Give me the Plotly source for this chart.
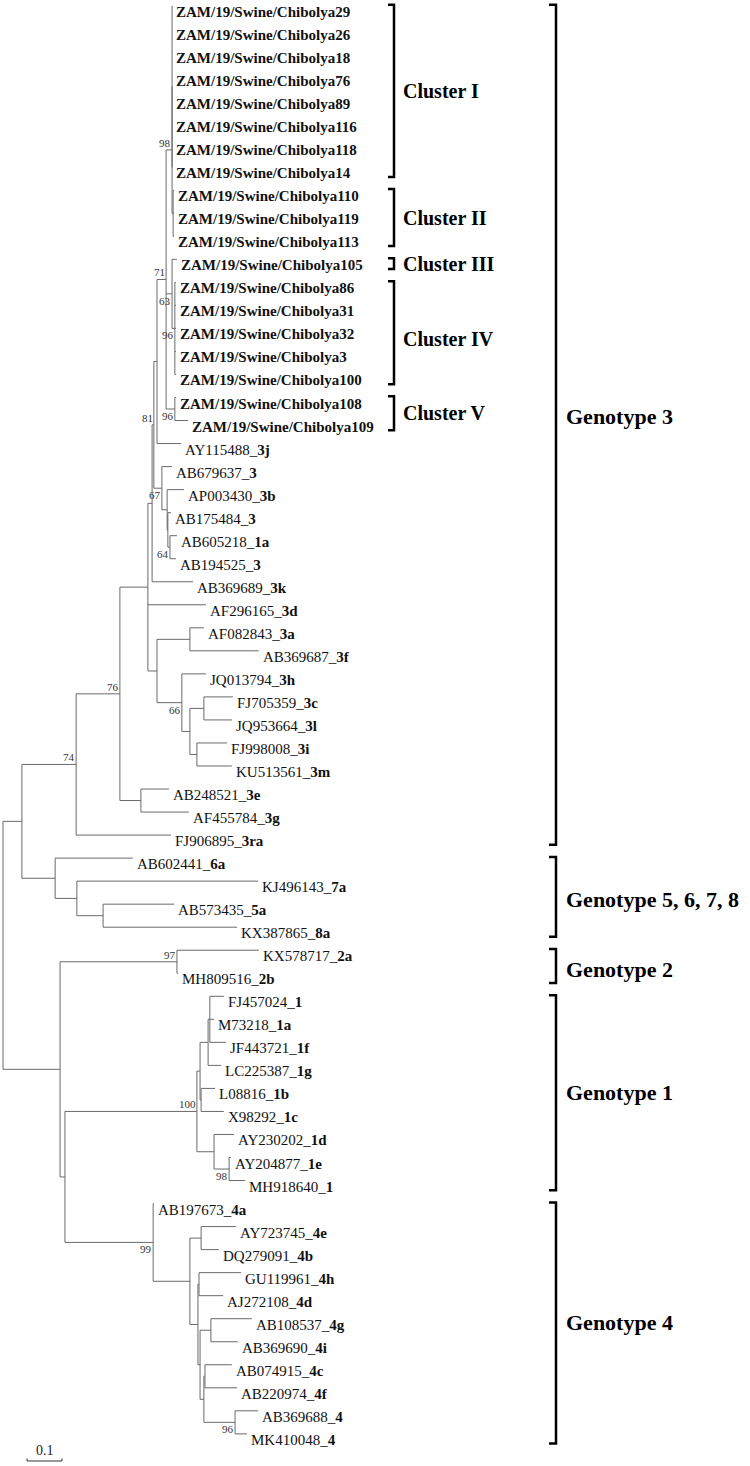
import plotly.graph_objects as go
from collections import defaultdict

# ---------------- DATA ----------------
leaf_names = [
    "ZAM/19/Swine/Chibolya29", "ZAM/19/Swine/Chibolya26", "ZAM/19/Swine/Chibolya18",
    "ZAM/19/Swine/Chibolya76", "ZAM/19/Swine/Chibolya89", "ZAM/19/Swine/Chibolya116",
    "ZAM/19/Swine/Chibolya118", "ZAM/19/Swine/Chibolya14", "ZAM/19/Swine/Chibolya110",
    "ZAM/19/Swine/Chibolya119", "ZAM/19/Swine/Chibolya113", "ZAM/19/Swine/Chibolya105",
    "ZAM/19/Swine/Chibolya86", "ZAM/19/Swine/Chibolya31", "ZAM/19/Swine/Chibolya32",
    "ZAM/19/Swine/Chibolya3", "ZAM/19/Swine/Chibolya100", "ZAM/19/Swine/Chibolya108",
    "ZAM/19/Swine/Chibolya109",
    "AY115488", "AB679637", "AP003430", "AB175484", "AB605218", "AB194525", "AB369689",
    "AF296165", "AF082843", "AB369687", "JQ013794", "FJ705359", "JQ953664", "FJ998008",
    "KU513561", "AB248521", "AF455784", "FJ906895",
    "AB602441", "KJ496143", "AB573435", "KX387865",
    "KX578717", "MH809516",
    "FJ457024", "M73218", "JF443721", "LC225387", "L08816", "X98292", "AY230202",
    "AY204877", "MH918640",
    "AB197673", "AY723745", "DQ279091", "GU119961", "AJ272108", "AB108537", "AB369690",
    "AB074915", "AB220974", "AB369688", "MK410048",
]
leaf_types = [""] * 19 + [
    "3j", "3", "3b", "3", "1a", "3", "3k", "3d", "3a", "3f", "3h", "3c", "3l", "3i", "3m",
    "3e", "3g", "3ra",
    "6a", "7a", "5a", "8a",
    "2a", "2b",
    "1", "1a", "1f", "1g", "1b", "1c", "1d", "1e", "1",
    "4a", "4e", "4b", "4h", "4d", "4g", "4i", "4c", "4f", "4", "4",
]
leaf_parent = (["CI"] * 8 + ["CII"] * 3 + ["N63"] + ["N96"] * 5 + ["CV"] * 2 + [
    "D1", "D2", "E2", "F2", "G2", "G2", "C0", "B", "E", "E", "F", "H", "H", "I", "I",
    "J", "J", "N74",
    "L", "M", "N", "N",
    "O", "O",
    "U", "U", "U", "T", "S", "S", "R", "V", "V",
    "W", "Y", "Y", "AA", "AA", "CC", "CC", "EE", "EE", "FF", "FF",
])
leaf_depth = ([0.484] * 8 + [0.489] * 3 + [0.497] + [0.494] * 5 + [0.494, 0.529] + [
    0.509, 0.483, 0.517, 0.480, 0.497, 0.494, 0.543, 0.580, 0.574, 0.731, 0.580, 0.657,
    0.654, 0.640, 0.654, 0.474, 0.531, 0.480,
    0.371, 0.729, 0.489, 0.669,
    0.731, 0.500,
    0.631, 0.603, 0.637, 0.623, 0.606, 0.631, 0.660, 0.651, 0.691,
    0.431, 0.666, 0.617, 0.680, 0.629, 0.711, 0.671, 0.654, 0.669, 0.729, 0.697,
])

node_names = ["root", "K", "N74", "A", "B", "C0", "C", "D1", "N71", "N98", "CI", "CII",
              "N63", "N96", "CV", "D2", "E2", "F2", "G2", "D", "E", "F", "G", "H", "I",
              "J", "L", "M", "N", "N60", "O", "G14", "P", "Q", "T", "U", "S", "R", "V",
              "W", "X", "Y", "Z", "AA", "BB", "CC", "DD", "EE", "FF"]
node_parent = [None, "root", "K", "N74", "A", "B", "C0", "C", "D1", "N71", "N98", "N98",
               "N71", "N63", "N71", "C", "D2", "E2", "F2", "B", "D", "D", "F", "G", "G",
               "A", "K", "L", "M", "root", "N60", "N60", "G14", "P", "Q", "T", "Q", "P", "R",
               "G14", "W", "X", "X", "Z", "Z", "BB", "BB", "DD", "DD"]
node_depth = [0.0, 0.054, 0.209, 0.334, 0.414, 0.426, 0.431, 0.440, 0.466, 0.483, 0.483, 0.486,
              0.483, 0.491, 0.491, 0.454, 0.469, 0.471, 0.477, 0.440, 0.534, 0.511, 0.534, 0.574, 0.554,
              0.394, 0.149, 0.211, 0.286, 0.163, 0.497, 0.177, 0.554, 0.563, 0.586, 0.591, 0.566, 0.603, 0.646,
              0.429, 0.534, 0.566, 0.557, 0.560, 0.563, 0.594, 0.574, 0.577, 0.663]
node_support = [None, None, 74, 76, None, None, 81, None, 71, 98, None, None,
                63, 96, 96, 67, None, None, 64, None, None, 66, None, None, None,
                None, None, None, None, None, 97, None, 100, None, None, None, None, None, 98,
                99, None, None, None, None, None, None, None, None, 96]

cluster_names = ["Cluster I", "Cluster II", "Cluster III", "Cluster IV", "Cluster V"]
cluster_first = [0, 8, 11, 12, 17]
cluster_last = [7, 10, 11, 16, 18]
genotype_names = ["Genotype 3", "Genotype 5, 6, 7, 8", "Genotype 2", "Genotype 1", "Genotype 4"]
genotype_first = [0, 37, 41, 43, 52]
genotype_last = [36, 40, 42, 51, 62]

scale_length = 0.1
scale_label = "0.1"

# ---------------- LAYOUT CONSTANTS ----------------
W, H = 750, 1466
ROW_PX = 23.03
ROW0_PX = 6.0
PX_PER_UNIT = 350.0
ROOT_PX = 3.0
FONT = "Liberation Serif, Times New Roman, serif"
BRANCH_COLOR = "#6a6a6a"
CLUSTER_LABEL_SHIFT = [0, 0, 0, -6, 0]       # px (positive = up)
GENOTYPE_LABEL_SHIFT = [8, -3, -3, 0, 0]

y_top = -ROW0_PX / ROW_PX
y_bot = y_top + H / ROW_PX
x_left = -ROOT_PX / PX_PER_UNIT
x_right = x_left + W / PX_PER_UNIT

def px_rows(p):
    return p / ROW_PX

# ---------------- TREE GEOMETRY ----------------
depth = dict(zip(node_names, node_depth))
parent = dict(zip(node_names, node_parent))
support = dict(zip(node_names, node_support))
children = defaultdict(list)
for n, p in zip(node_names, node_parent):
    if p is not None:
        children[p].append(n)
for i, p in enumerate(leaf_parent):
    children[p].append(("leaf", i))

ypos = {}
def get_y(n):
    if isinstance(n, tuple):
        return float(n[1])
    if n in ypos:
        return ypos[n]
    ys = [get_y(c) for c in children[n]]
    ypos[n] = (min(ys) + max(ys)) / 2
    return ypos[n]

get_y("root")

xs, ys = [], []
for n in node_names:
    cy = [get_y(c) for c in children[n]]
    xs += [depth[n], depth[n], None]
    ys += [min(cy), max(cy), None]
    if parent[n] is not None:
        xs += [depth[parent[n]], depth[n], None]
        ys += [ypos[n], ypos[n], None]
for i, p in enumerate(leaf_parent):
    xs += [depth[p], leaf_depth[i], None]
    ys += [i, i, None]

fig = go.Figure()
fig.add_trace(go.Scatter(x=xs, y=ys, mode="lines",
                         line=dict(color=BRANCH_COLOR, width=1),
                         hoverinfo="skip", showlegend=False))

annotations = []
# leaf labels
for i, name in enumerate(leaf_names):
    if leaf_types[i]:
        txt = f"{name}_<b>{leaf_types[i]}</b>"
    else:
        txt = f"<b>{name}</b>"
    annotations.append(dict(x=leaf_depth[i], y=i, text=txt, showarrow=False,
                            xanchor="left", yanchor="middle", xshift=2, yshift=-6,
                            font=dict(family=FONT, size=15, color="#111")))

# bootstrap labels
for n in node_names:
    s = support[n]
    if s is None:
        continue
    above = ypos[n] < ypos[parent[n]]
    annotations.append(dict(x=depth[n], y=ypos[n], text=str(s), showarrow=False,
                            xanchor="right", yanchor="middle", xshift=1,
                            yshift=7 if above else -7,
                            font=dict(family=FONT, size=11, color="#333")))

shapes = []
def bracket(first, last, x_line, x_tick):
    top = first - 0.05
    bot = last + 0.42
    shapes.append(dict(type="path", xref="paper", yref="y",
                       path=f"M {x_tick},{top} L {x_line},{top} L {x_line},{bot} L {x_tick},{bot}",
                       line=dict(color="black", width=2.5)))
    return (top + bot) / 2

for name, f, l, sh in zip(cluster_names, cluster_first, cluster_last, CLUSTER_LABEL_SHIFT):
    mid = bracket(f, l, 394 / W, 388 / W)
    annotations.append(dict(x=401 / W, xref="paper", y=mid, text=f"<b>{name}</b>",
                            showarrow=False, xanchor="left", yanchor="middle", yshift=sh,
                            font=dict(family=FONT, size=20, color="black")))
for name, f, l, sh in zip(genotype_names, genotype_first, genotype_last, GENOTYPE_LABEL_SHIFT):
    mid = bracket(f, l, 556 / W, 549 / W)
    annotations.append(dict(x=564 / W, xref="paper", y=mid, text=f"<b>{name}</b>",
                            showarrow=False, xanchor="left", yanchor="middle", yshift=sh,
                            font=dict(family=FONT, size=22, color="black")))

# scale bar
sb_x0 = (27 - ROOT_PX) / PX_PER_UNIT
sb_y = y_top + px_rows(1461)
tick = px_rows(2.5)
fig.add_trace(go.Scatter(
    x=[sb_x0, sb_x0 + scale_length, None, sb_x0, sb_x0, None, sb_x0 + scale_length, sb_x0 + scale_length],
    y=[sb_y, sb_y, None, sb_y - tick, sb_y, None, sb_y - tick, sb_y],
    mode="lines", line=dict(color="#333", width=1), hoverinfo="skip", showlegend=False))
annotations.append(dict(x=sb_x0 + scale_length / 2, y=sb_y, text=scale_label, showarrow=False,
                        xanchor="center", yanchor="bottom", yshift=1,
                        font=dict(family=FONT, size=14, color="#222")))

fig.update_layout(
    width=W, height=H,
    margin=dict(l=0, r=0, t=0, b=0),
    paper_bgcolor="white", plot_bgcolor="white",
    xaxis=dict(range=[x_left, x_right], visible=False, fixedrange=True),
    yaxis=dict(range=[y_bot, y_top], visible=False, fixedrange=True),
    annotations=annotations, shapes=shapes,
)
fig.write_html("out.html", config={"displayModeBar": False},
               post_script="document.body.style.margin='0';document.body.style.overflow='hidden';")
